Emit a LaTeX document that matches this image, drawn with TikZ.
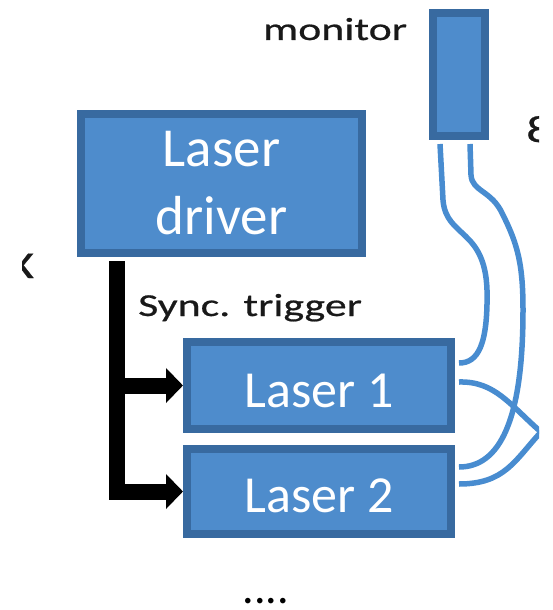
\documentclass[tikz,border=0pt]{standalone}
\usepackage{fontspec}
\setmainfont{Carlito}
\newfontfamily\lblfont[FakeStretch=1.37,FakeBold=0.6]{Carlito}
\usetikzlibrary{arrows.meta}
\definecolor{boxfill}{RGB}{78,140,204}
\definecolor{boxline}{RGB}{56,106,160}
\definecolor{fibre}{RGB}{72,140,208}
\tikzset{
  unit/.style={draw=boxline, fill=boxfill, line width=8pt, text=white, align=center, inner sep=0pt},
  fiber/.style={draw=fibre, line width=5.5pt},
  trig/.style={line width=16pt, line join=miter, -{Triangle[length=17pt,width=34pt]}},
  lbl/.style={font=\lblfont\fontsize{32}{38}\selectfont, text=black!90, inner sep=0pt}
}
\begin{document}
\begin{tikzpicture}[x=1pt,y=-1pt]
    \useasboundingbox (0,0) rectangle (552,610);
    \begin{scope}
    \clip (22,0) rectangle (539,610);
    % boxes
    \node[unit, minimum width=281pt, minimum height=139pt, font=\fontsize{55}{68}\selectfont] (drv) at (221.5,183.5) {Laser\\driver};
    \node[unit, minimum width=264pt, minimum height=87pt, text height=44pt, text depth=0pt, font=\fontsize{52}{60}\selectfont] (las1) at (319,385.5) {Laser 1};
    \node[unit, minimum width=264pt, minimum height=85pt, text height=42pt, text depth=0pt, font=\fontsize{52}{60}\selectfont] (las2) at (319,491.5) {Laser 2};
    \node[unit, minimum width=52pt, minimum height=123pt] (mon) at (459,74.5) {};
    % labels
    \node[lbl, anchor=base west] (montxt) at (263,40) {monitor};
    \node[lbl, anchor=base west] (synctxt) at (138,316) {Sync. trigger};
    \node[lbl, anchor=base west, font=\lblfont\fontsize{38}{44}\selectfont] (cut8) at (526,142) {8};
    \node[lbl, anchor=base east, font=\lblfont\fontsize{38}{44}\selectfont] (cutx) at (34,278) {X};
    \node[anchor=base, inner sep=0pt, font=\fontsize{46}{46}\selectfont] (dots) at (266,603) {....};
    % trigger lines
    \coordinate (trunk) at (117,0);
    \draw[trig] ([yshift=-4pt]trunk |- drv.south) |- (las2.west);
    \draw[trig] (trunk |- las1.west) -- (las1.west);
    % fibres
    \coordinate (fa) at ([xshift=-19pt,yshift=-4pt]mon.south);
    \coordinate (fb) at ([xshift=11pt,yshift=-4pt]mon.south);
    \coordinate (p1a) at ([xshift=4pt,yshift=22.5pt]las1.east);
    \coordinate (p1b) at ([xshift=4pt,yshift=3.5pt]las1.east);
    \coordinate (p2a) at ([xshift=4pt,yshift=24.5pt]las2.east);
    \coordinate (p2b) at ([xshift=4pt,yshift=7.5pt]las2.east);
    \coordinate (edge) at (541,432);
    \draw[fiber] (fa) -- (443,200) .. controls (446,238) and (485,228) .. (487,290)
        .. controls (488,345) and (478,363) .. (p1a);
    \draw[fiber] (fb) -- (471,175) .. controls (472,192) and (492,190) .. (503,215)
        .. controls (518,245) and (523,265) .. (523,310)
        .. controls (523,420) and (500,467) .. (p2a);
    \draw[fiber] (p1b) .. controls (495,381) and (510,405) .. (edge);
    \draw[fiber] (p2b) .. controls (505,484) and (515,460) .. (edge);
    \end{scope}
\end{tikzpicture}
\end{document}
